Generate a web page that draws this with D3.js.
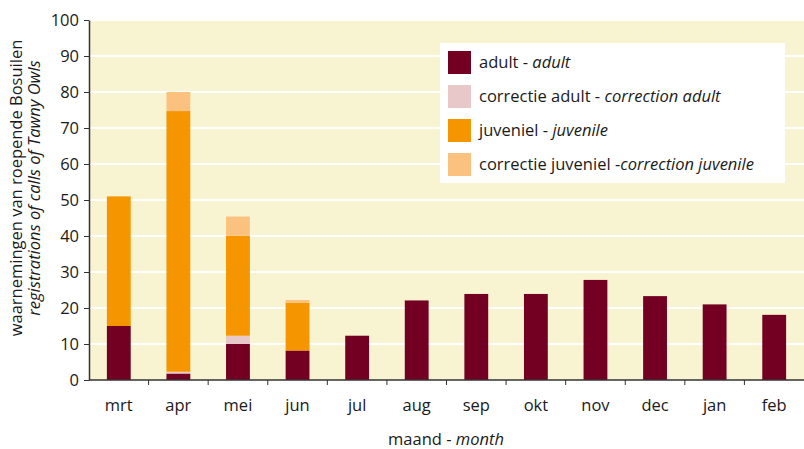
<!DOCTYPE html>
<html><head><meta charset="utf-8">
<script src="https://cdn.jsdelivr.net/npm/d3@7/dist/d3.min.js"></script>
<style>body{margin:0;background:#fff}text{font-family:"Open Sans",sans-serif;fill:#1a1a1a}</style>
</head><body><svg id="c" width="804" height="449"></svg>
<script>
const months = ["mrt","apr","mei","jun","jul","aug","sep","okt","nov","dec","jan","feb"];
const adult = [15, 1.8, 10, 8.2, 12.3, 22.1, 23.9, 23.9, 27.8, 23.3, 21, 18.1];
const corrAdult = [0, 0.5, 2.3, 0, 0, 0, 0, 0, 0, 0, 0, 0];
const juvenile = [36, 72.4, 27.8, 13.3, 0, 0, 0, 0, 0, 0, 0, 0];
const corrJuvenile = [0, 5.3, 5.3, 0.7, 0, 0, 0, 0, 0, 0, 0, 0];
const yTicks = [0,10,20,30,40,50,60,70,80,90,100];
const seriesNames = [["adult - ","adult"],["correctie adult - ","correction adult"],["juveniel - ","juvenile"],["correctie juveniel -","correction juvenile"]];
const colors = ["#730022","#E8C8C8","#F59500","#FAC27E"];

const FS = 16.5;
const svg = d3.select("#c");
const m = {l:89, r:0, t:20, b:69};
const W = 804, H = 449;
const x = d3.scaleBand().domain(months).range([m.l, W-m.r]).paddingInner(0.6).paddingOuter(0.3);
const xb = d3.scaleBand().domain(months).range([m.l, W-m.r]);
const y = d3.scaleLinear().domain([0,100]).range([H-m.b, m.t]);

svg.append("rect").attr("x",m.l).attr("y",m.t).attr("width",W-m.r-m.l).attr("height",H-m.b-m.t).attr("fill","#F8F3D0");
svg.append("g").selectAll("line").data(yTicks.slice(1)).join("line")
  .attr("x1",m.l).attr("x2",W-m.r).attr("y1",d=>y(d)).attr("y2",d=>y(d)).attr("stroke","#fff").attr("stroke-width",2);

const data = months.map((mo,i)=>({month:mo, a:adult[i], ca:corrAdult[i], j:juvenile[i], cj:corrJuvenile[i]}));
const stack = d3.stack().keys(["a","ca","j","cj"])(data);
svg.append("g").selectAll("g").data(stack).join("g").attr("fill",(d,i)=>colors[i])
  .selectAll("rect").data(d=>d.filter(v=>v[1]-v[0]>0)).join("rect")
  .attr("x",d=>x(d.data.month)).attr("width",x.bandwidth())
  .attr("y",d=>y(d[1])).attr("height",d=>y(d[0])-y(d[1]));

// x axis
const gx = svg.append("g").attr("transform",`translate(0,${H-m.b})`);
gx.append("line").attr("x1",m.l).attr("x2",W).attr("stroke","#333").attr("stroke-width",1.5);
gx.selectAll("line.t").data(months.slice(1)).join("line").attr("class","t")
  .attr("x1",d=>xb(d)).attr("x2",d=>xb(d)).attr("y1",0).attr("y2",5).attr("stroke","#333");
gx.selectAll("text").data(months).join("text")
  .attr("x",d=>xb(d)+xb.bandwidth()/2).attr("y",31).attr("text-anchor","middle").attr("font-size",FS).text(d=>d);

// y axis
const gy = svg.append("g").attr("transform",`translate(${m.l},0)`)
  .call(d3.axisLeft(y).tickValues(yTicks).tickSize(5).tickPadding(5).tickSizeOuter(0));
gy.select(".domain").attr("stroke","#333").attr("stroke-width",1.5);
gy.selectAll(".tick line").attr("stroke","#333");
gy.selectAll(".tick text").attr("font-size",FS).attr("font-family","Open Sans").attr("fill","#1a1a1a");

// axis titles
const yt = svg.append("text").attr("transform","translate(22,188) rotate(-90)").attr("text-anchor","middle").attr("font-size",FS);
yt.append("tspan").attr("x",0).attr("dy",0).text("waarnemingen van roepende Bosuilen");
yt.append("tspan").attr("x",0).attr("dy",18).attr("font-style","italic").text("registrations of calls of Tawny Owls");
const xt = svg.append("text").attr("x",446).attr("y",445).attr("text-anchor","middle").attr("font-size",FS);
xt.append("tspan").text("maand  - ");
xt.append("tspan").attr("font-style","italic").text("month");

// legend
const lg = svg.append("g");
lg.append("rect").attr("x",440).attr("y",43).attr("width",345).attr("height",140).attr("fill","#fff");
const rows = lg.selectAll("g").data(seriesNames).join("g").attr("transform",(d,i)=>`translate(448,${51+i*34})`);
rows.append("rect").attr("width",23).attr("height",23).attr("fill",(d,i)=>colors[i]);
const lt = rows.append("text").attr("x",31).attr("y",17).attr("font-size",FS);
lt.append("tspan").text(d=>d[0]);
lt.append("tspan").attr("font-style","italic").text(d=>d[1]);
</script></body></html>
